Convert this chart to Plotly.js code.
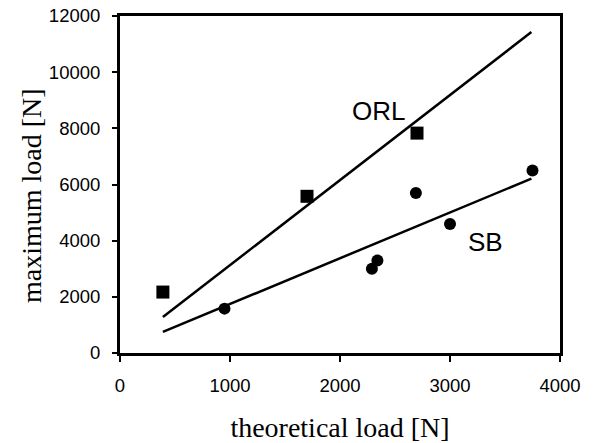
<!DOCTYPE html>
<html><head><meta charset="utf-8">
<script src="https://cdn.plot.ly/plotly-3.0.1.min.js"></script>
<style>html,body{margin:0;padding:0;background:#fff}</style>
</head><body><div id="chart" style="width:594px;height:443px"></div>
<script>
const orlX = [390, 1700, 2700];
const orlY = [2170, 5580, 7830];
const sbX = [950, 2290, 2340, 2690, 3000, 3750];
const sbY = [1580, 3000, 3290, 5700, 4590, 6500];
const orlFitX = [390, 3740];
const orlFitY = [1280, 11430];
const sbFitX = [390, 3740];
const sbFitY = [750, 6210];
const xTicks = [0, 1000, 2000, 3000, 4000];
const yTicks = [0, 2000, 4000, 6000, 8000, 10000, 12000];

const traces = [
  {x: orlFitX, y: orlFitY, mode: 'lines', line: {color: '#000', width: 2.5}, hoverinfo: 'skip'},
  {x: sbFitX, y: sbFitY, mode: 'lines', line: {color: '#000', width: 2.5}, hoverinfo: 'skip'},
  {x: orlX, y: orlY, mode: 'markers', marker: {symbol: 'square', size: 13, color: '#000'}},
  {x: sbX, y: sbY, mode: 'markers', marker: {symbol: 'circle', size: 12, color: '#000'}}
];
const tickFont = {family: 'Liberation Sans, Arial, sans-serif', size: 18.5, color: '#000'};
const titleFont = {family: 'Liberation Serif, Times New Roman, serif', size: 28, color: '#000'};
const layout = {
  width: 594, height: 443,
  margin: {l: 120, r: 34, t: 16, b: 90},
  paper_bgcolor: '#fff', plot_bgcolor: '#fff',
  showlegend: false,
  xaxis: {
    range: [0, 4000], tickvals: xTicks, ticktext: xTicks.map(String),
    showgrid: false, zeroline: false, showline: true, linewidth: 3, linecolor: '#000', mirror: true,
    ticks: 'outside', ticklen: 6, tickwidth: 2, tickcolor: '#000', tickfont: tickFont,
    ticklabelstandoff: 8,
    title: {text: 'theoretical load [N]', font: titleFont, standoff: 29}
  },
  yaxis: {
    range: [0, 12000], tickvals: yTicks, ticktext: yTicks.map(String),
    showgrid: false, zeroline: false, showline: true, linewidth: 3, linecolor: '#000', mirror: true,
    ticks: 'outside', ticklen: 5, tickwidth: 2, tickcolor: '#000', tickfont: tickFont,
    ticklabelstandoff: 8
  },
  annotations: [
    {x: -0.2, y: 0.466, xref: 'paper', yref: 'paper', text: 'maximum load [N]', textangle: -90,
     showarrow: false, xanchor: 'center', yanchor: 'middle', font: titleFont},
    {x: 2350, y: 8600, xref: 'x', yref: 'y', text: 'ORL', showarrow: false,
     font: {family: 'Liberation Sans, Arial, sans-serif', size: 26, color: '#000'}},
    {x: 3320, y: 3950, xref: 'x', yref: 'y', text: 'SB', showarrow: false,
     font: {family: 'Liberation Sans, Arial, sans-serif', size: 26, color: '#000'}}
  ]
};
Plotly.newPlot('chart', traces, layout, {staticPlot: true});
</script></body></html>
